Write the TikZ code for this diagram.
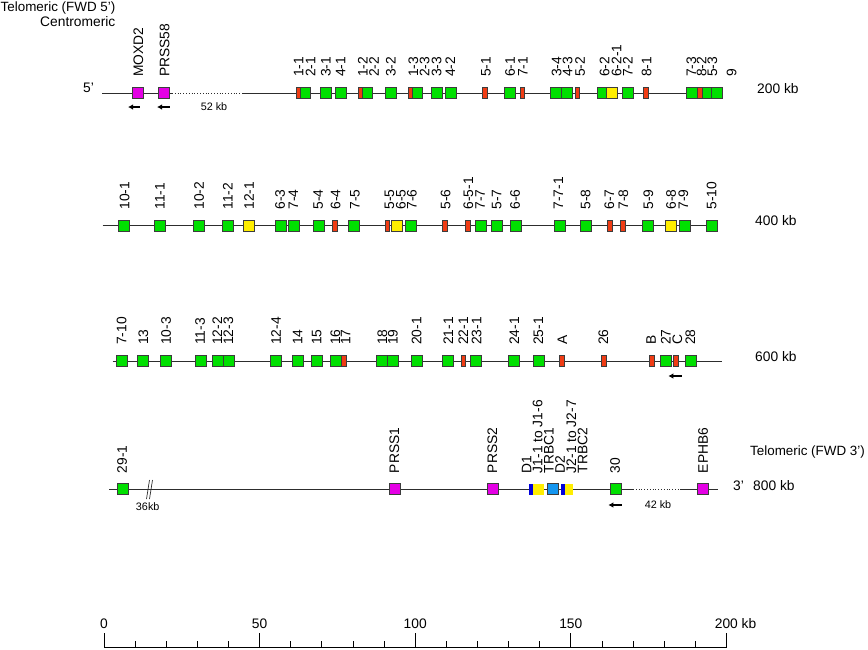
\documentclass[tikz,border=0pt]{standalone}
\usepackage{fontspec}
\setmainfont{Liberation Sans}
\usetikzlibrary{arrows.meta}
\definecolor{gfill}{RGB}{0,224,0}
\definecolor{rfill}{RGB}{240,60,20}
\definecolor{yfill}{RGB}{255,238,0}
\definecolor{mfill}{RGB}{228,0,228}
\definecolor{bfill}{RGB}{20,150,240}
\definecolor{dbfill}{RGB}{0,0,220}
\definecolor{bord}{RGB}{60,60,60}
\definecolor{linec}{RGB}{45,45,45}
\newcommand\labfont{\fontsize{13.8}{16}\selectfont}
\newcommand\edgefont{\fontsize{13.4}{16}\selectfont}
\newcommand\smallfnt{\fontsize{10.8}{13}\selectfont}
\begin{document}
\begin{tikzpicture}[x=1pt,y=-1pt,
  box/.style={draw=bord, line width=0.8pt, minimum height=11pt, minimum width=11pt, inner sep=0pt, outer sep=0pt},
  gbox/.style={box, fill=gfill},
  rbox/.style={box, fill=rfill, minimum width=4.8pt},
  ybox/.style={box, fill=yfill},
  mbox/.style={box, fill=mfill},
  bbox/.style={box, fill=bfill},
  dbbox/.style={box, draw=none, fill=dbfill, minimum width=4.3pt},
  jbox/.style={box, draw=none, fill=yfill},
  lab/.style={rotate=90, anchor=west, inner sep=0pt, font=\labfont},
  txt/.style={anchor=base west, inner sep=0pt, font=\labfont},
  small/.style={inner sep=0pt, font=\smallfnt},
  backbone/.style={draw=linec, line width=0.8pt},
  dotline/.style={draw=linec, line width=0.8pt, dash pattern=on 0.8pt off 2pt},
  arr/.style={-{Latex[length=5pt,width=5.5pt]}, line width=1.4pt},
  tick/.style={draw=black, line width=0.8pt}
]
\useasboundingbox (0,0) rectangle (868,649);

% ---------- header texts ----------
\node[txt, font=\edgefont] (telo5) at (0.5,11) {Telomeric (FWD 5')};
\node[txt] (centro) at (40,26) {Centromeric};

% ---------- row 1 ----------
\coordinate (r1a) at (102,93);
\coordinate (r1b) at (172,93);
\coordinate (r1c) at (243,93);
\coordinate (r1d) at (723,93);
\draw[backbone] (r1a) -- (r1b);
\draw[dotline] (r1b) -- (r1c);
\draw[backbone] (r1c) -- (r1d);
\node[txt] (five) at (83,92) {5'};
\node[txt] (kb200) at (757,93) {200 kb};
\node[small] (kb52) at (214,107) {52 kb};

\node[mbox] (MOXD2) at (138,93) {};
\node[mbox] (PRSS58) at (164,93) {};
\foreach \x/\n in {305/g21,326.2/g31,340.5/g41,366.7/g22,390.5/g32,417.3/g23,437.2/g33,450.5/g42,510/g61,556.2/g34,708.3/g53,717.3/g9}
  \node[gbox] (\n) at (\x,93) {};
\foreach \x/\n in {566.8/g43,602.3/g62,627.8/g72,691.8/g73}
  \node[gbox, minimum width=10.5pt] (\n) at (\x,93) {};
\foreach \x/\n in {298/r11,360.3/r12,410.2/r13}
  \node[rbox, minimum width=4pt] (\n) at (\x,93) {};
\foreach \x/\n in {484.8/r51,522.3/r71,577.3/r52,645.8/r81,699.5/r82}
  \node[rbox] (\n) at (\x,93) {};
\node[ybox] (y621) at (612,93) {};

\coordinate (a1s) at (139.5,107);
\coordinate (a1e) at (128,107);
\coordinate (a2s) at (169.5,107);
\coordinate (a2e) at (157,107);
\draw[arr] (a1s) -- (a1e);
\draw[arr] (a2s) -- (a2e);

\foreach \x/\t [count=\i] in {138.3/MOXD2,164.5/PRSS58,298.7/1-1,310.5/2-1,325.8/3-1,340.7/4-1,362.7/1-2,374/2-2,390.8/3-2,413.3/1-3,424.7/2-3,436.7/3-3,450.3/4-2,486/5-1,510/6-1,522.8/7-1,556.5/3-4,567.5/4-3,580/5-2,604.7/6-2,616.7/6-2-1,627.7/7-2,646.7/8-1,691.3/7-3,701.7/8-2,712.3/5-3,731.7/9}
  \node[lab] (la\i) at (\x,77) {\t};

% ---------- row 2 ----------
\coordinate (r2a) at (102.7,225.7);
\coordinate (r2b) at (717,225.7);
\draw[backbone] (r2a) -- (r2b);
\node[txt] (kb400) at (755,225.7) {400 kb};
\foreach \x/\n in {123.8/h101,159.8/h111,198.8/h102,227.8/h112,280.5/h63,293.8/h74,318.7/h54,354.2/h75,411.3/h76,480.5/h77,496.8/h57,515.7/h66,559.8/h771,586.2/h58,648.2/h59,684.5/h79,711.7/h510}
  \node[gbox] (\n) at (\x,225.7) {};
\foreach \x/\n in {335/s64,387.2/s55,445/s56,468/s651,609.8/s67,623/s78}
  \node[rbox, minimum width=4.6pt] (\n) at (\x,225.7) {};
\foreach \x/\n in {248.8/t121,397.2/t65,671.2/t68}
  \node[ybox] (\n) at (\x,225.7) {};
\foreach \x/\t [count=\i] in {124.5/10-1,160/11-1,199/10-2,227.7/11-2,249/12-1,280/6-3,293.3/7-4,318.3/5-4,335.7/6-4,355/7-5,389.5/5-5,400.8/6-5,411.8/7-6,445.7/5-6,468.3/6-5-1,480/7-7,496.7/5-7,515/6-6,558.3/7-7-1,585.7/5-8,609.3/6-7,623.3/7-8,648.3/5-9,671/6-8,683.3/7-9,711.7/5-10}
  \node[lab] (lb\i) at (\x,209.7) {\t};

% ---------- row 3 ----------
\coordinate (r3a) at (112.7,361);
\coordinate (r3b) at (721.7,361);
\draw[backbone] (r3a) -- (r3b);
\node[txt] (kb600) at (755,361) {600 kb};
\foreach \x/\n in {121.7/k710,143.2/k13,165.5/k103,200.5/k113,217.5/k122,228.5/k123,275.8/k124,297.8/k14,316.8/k15,335.5/k16,382/k18,392.5/k19,416.5/k201,448.3/k211,476.2/k231,514/k241,538.8/k251,666/k27,690.8/k28}
  \node[gbox] (\n) at (\x,361) {};
\foreach \x/\n in {343.8/q17,463.3/q221,561.8/qA,604/q26,651.8/qB,676/qC}
  \node[rbox] (\n) at (\x,361) {};
\coordinate (a3s) at (681.7,376);
\coordinate (a3e) at (668.3,376);
\draw[arr] (a3s) -- (a3e);
\foreach \x/\t [count=\i] in {121.7/7-10,143.3/13,166/10-3,200/11-3,217.3/12-2,228.3/12-3,276/12-4,297.7/14,316.7/15,335.3/16,345.5/17,382.3/18,392.8/19,416.7/20-1,448.3/21-1,463.3/22-1,476.7/23-1,514.3/24-1,538.3/25-1,562.3/A,603.3/26,651/B,665.7/27,677.3/C,690.3/28}
  \node[lab] (lc\i) at (\x,345) {\t};

% ---------- row 4 ----------
\coordinate (r4a) at (109.3,489.3);
\coordinate (r4b) at (633,489.3);
\coordinate (r4c) at (680,489.3);
\coordinate (r4d) at (718.3,489.3);
\draw[backbone] (r4a) -- (r4b);
\draw[dotline] (r4b) -- (r4c);
\draw[backbone] (r4c) -- (r4d);
\coordinate (br1a) at (149.5,480);
\coordinate (br1b) at (146.5,499);
\coordinate (br2a) at (152.5,480);
\coordinate (br2b) at (149.5,499);
\draw[draw=linec, line width=0.7pt] (br1a) -- (br1b);
\draw[draw=linec, line width=0.7pt] (br2a) -- (br2b);
\node[small] (kb36) at (147.7,506.7) {36kb};
\node[small] (kb42) at (658,505) {42 kb};
\node[txt] (three) at (733,490) {3'};
\node[txt] (kb800) at (753,490) {800 kb};
\node[txt, font=\edgefont] (telo3) at (750,455) {Telomeric (FWD 3')};

\node[gbox] (g291) at (122.7,489.3) {};
\node[mbox] (PRSS1) at (394.5,489.3) {};
\node[mbox] (PRSS2) at (493.2,489.3) {};
\node[jbox, minimum width=10.7pt] (J1) at (538.7,489.3) {};
\node[dbbox] (D1) at (531.2,489.3) {};
\node[bbox] (TRBC1) at (552.8,489.3) {};
\node[jbox, minimum width=7.7pt] (J2) at (568.8,489.3) {};
\node[dbbox, minimum width=4pt] (D2) at (563,489.3) {};
\node[gbox] (g30) at (615.7,489.3) {};
\node[mbox] (EPHB6) at (702.8,489.3) {};
\coordinate (a4s) at (621.7,505);
\coordinate (a4e) at (608.3,505);
\draw[arr] (a4s) -- (a4e);
\foreach \x/\t [count=\i] in {122/29-1,394.3/PRSS1,492.3/PRSS2,526.5/D1,537.7/J1-1 to J1-6,548.9/TRBC1,560.1/D2,571.3/J2-1 to J2-7,582.5/TRBC2,615/30,703/EPHB6}
  \node[lab] (ld\i) at (\x,473.3) {\t};

% ---------- scale bar ----------
\coordinate (sa) at (104,647.5);
\coordinate (sb) at (726.4,647.5);
\draw[tick] (sa) -- (sb);
\foreach \i in {0,...,20}
  \draw[tick] ({104+31.12*\i},647.5) -- ({104+31.12*\i},641);
\foreach \i in {0,5,10,15,20}
  \draw[tick] ({104+31.12*\i},647.5) -- ({104+31.12*\i},632.5);
\node[anchor=base, inner sep=0pt, font=\labfont] (s0) at (104,628) {0};
\node[anchor=base, inner sep=0pt, font=\labfont] (s50) at (259.6,628) {50};
\node[anchor=base, inner sep=0pt, font=\labfont] (s100) at (415.2,628) {100};
\node[anchor=base, inner sep=0pt, font=\labfont] (s150) at (570.8,628) {150};
\node[anchor=base, inner sep=0pt, font=\labfont] (s200) at (726.4,628) {200\rlap{ kb}};
\end{tikzpicture}
\end{document}
